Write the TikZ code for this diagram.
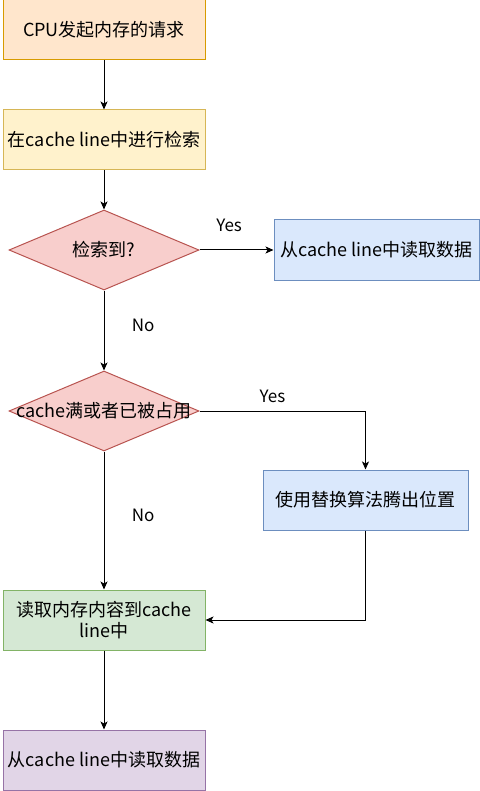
\documentclass[tikz,border=0pt]{standalone}
\usepackage{fontspec}
\setmainfont{Noto Sans CJK SC}
\usetikzlibrary{positioning, arrows.meta, shapes.geometric}

\definecolor{orangefill}{HTML}{FFE6CC}\definecolor{orangeline}{HTML}{D79B00}
\definecolor{yellowfill}{HTML}{FFF2CC}\definecolor{yellowline}{HTML}{D6B656}
\definecolor{redfill}{HTML}{F8CECC}\definecolor{redline}{HTML}{B85450}
\definecolor{bluefill}{HTML}{DAE8FC}\definecolor{blueline}{HTML}{6C8EBF}
\definecolor{greenfill}{HTML}{D5E8D4}\definecolor{greenline}{HTML}{82B366}
\definecolor{purplefill}{HTML}{E1D5E7}\definecolor{purpleline}{HTML}{9673A6}

\begin{document}
\begin{tikzpicture}[
  x=1pt, y=-1pt,
  font=\fontsize{18}{21}\selectfont,
  box/.style={draw, line width=1pt, minimum width=202pt, minimum height=60pt, align=center, inner sep=2pt},
  dia/.style={draw, line width=1pt, diamond, aspect=2.4, minimum width=190pt, minimum height=80pt, inner sep=0pt},
  arr/.style={-{Stealth[length=8pt, width=7pt, inset=2pt]}, line width=1pt},
  lbl/.style={font=\fontsize{17}{20}\selectfont},
  node distance=49pt
]
\useasboundingbox (0,0) rectangle (479,791);

\node (cpu)     [box, fill=orangefill, draw=orangeline] at (104,30) {CPU发起内存的请求};
\node (search)  [box, below=49pt of cpu, fill=yellowfill, draw=yellowline] {在cache line中进行检索};
\node (hit)     [dia, below=39pt of search, fill=redfill, draw=redline, label=center:{检索到?}] {};
\node (readc)   [box, right=74pt of hit, minimum width=205pt, fill=bluefill, draw=blueline] {从cache line中读取数据};
\node (full)    [dia, below=80pt of hit, fill=redfill, draw=redline, label=center:{cache满或者已被占用}] {};
\node (replace) [box, minimum width=205pt, fill=bluefill, draw=blueline] at (365.5,500) {使用替换算法腾出位置};
\node (load)    [box, below=138pt of full, fill=greenfill, draw=greenline] {读取内存内容到cache\\line中};
\node (done)    [box, below=79pt of load, fill=purplefill, draw=purpleline] {从cache line中读取数据};

\draw[arr] (cpu) -- (search);
\draw[arr] (search) -- (hit);
\draw[arr] (hit) -- node[lbl, pos=0.4, above=14pt] {Yes} (readc);
\draw[arr] (hit) -- node[lbl, pos=0.43, right=24pt] {No} (full);
\draw[arr] (full.east) -| node[lbl, pos=0.22, above=4pt] {Yes} (replace.north);
\draw[arr] (full) -- node[lbl, pos=0.46, right=24pt] {No} (load);
\draw[arr] (replace) |- (load);
\draw[arr] (load) -- (done);
\end{tikzpicture}
\end{document}
